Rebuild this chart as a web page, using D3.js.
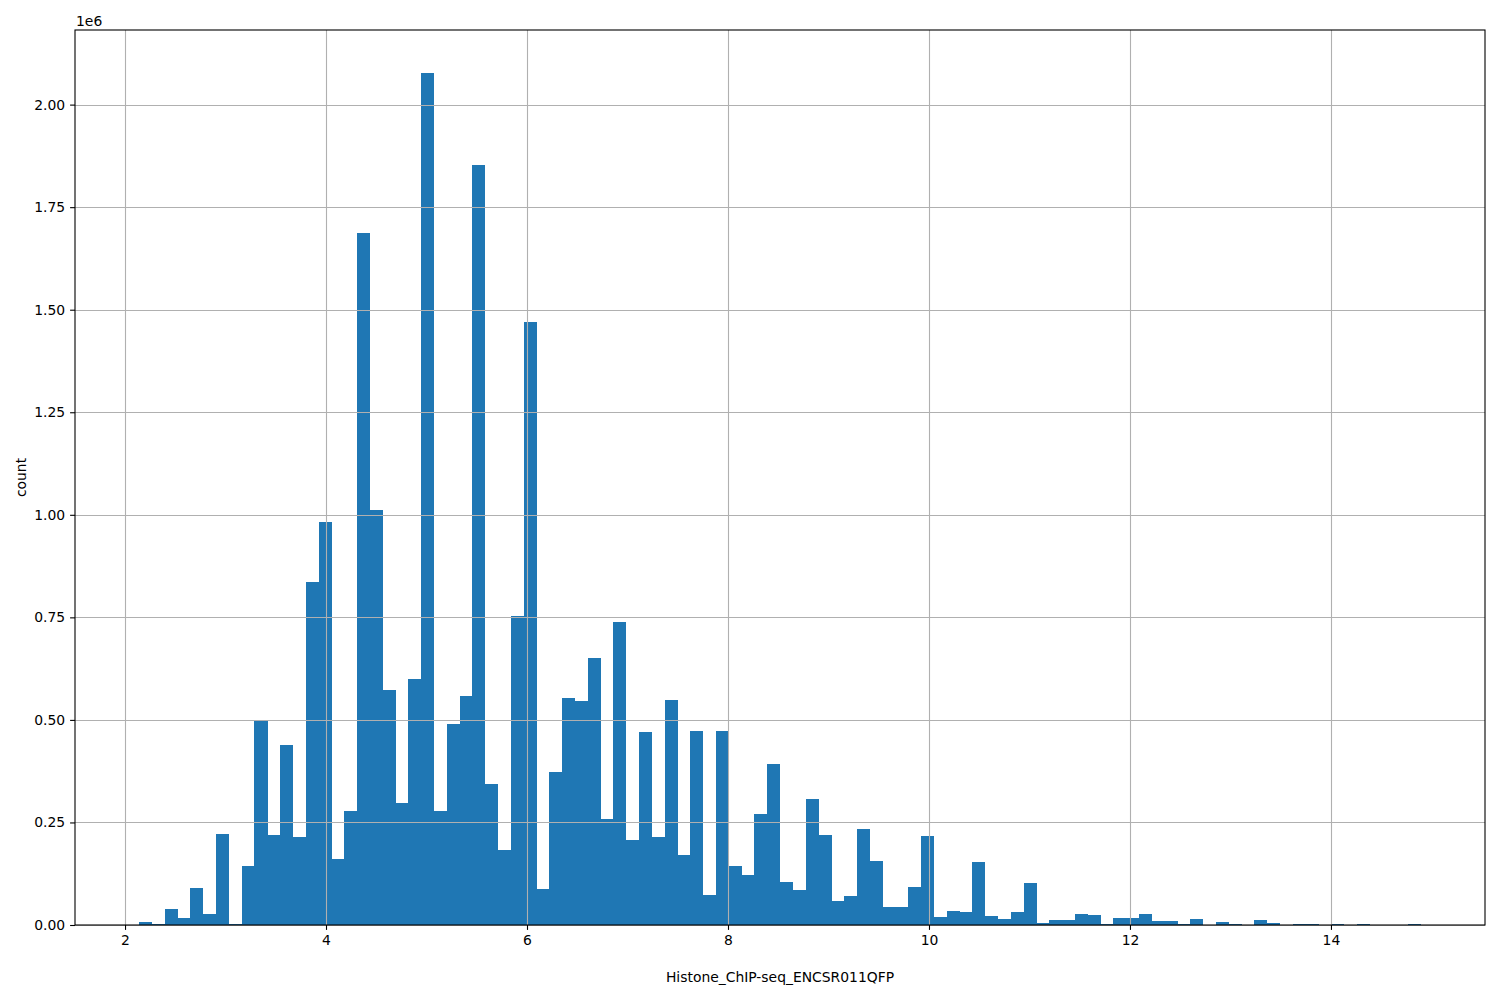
<!DOCTYPE html>
<html>
<head>
<meta charset="utf-8">
<script src="https://cdn.jsdelivr.net/npm/d3@7"></script>
<style>
  body { margin: 0; background: #fff; }
  svg { display: block; }
  text { font-family: "DejaVu Sans", sans-serif; }
</style>
</head>
<body>
<svg id="chart" width="1500" height="1000"></svg>
<script>
// Histogram settings
const histMin = 2.14;
const histMax = 14.895;
const counts = [
  8000, 2000, 39000, 17000, 90000, 27000, 222000, 2000, 144000, 498000,
  219000, 439000, 215000, 837000, 983000, 161000, 278000, 1688000, 1012000, 573000,
  298000, 600000, 2078000, 278000, 490000, 559000, 1854000, 344000, 183000, 754000,
  1471000, 88000, 373000, 554000, 547000, 651000, 258000, 739000, 207000, 471000,
  214000, 549000, 171000, 473000, 73000, 473000, 144000, 122000, 271000, 393000,
  105000, 85000, 307000, 219000, 58000, 71000, 234000, 156000, 44000, 44000,
  92000, 217000, 19500, 34000, 32000, 154000, 22000, 14600, 32000, 102000,
  5000, 12000, 12000, 27000, 24000, 2000, 17000, 17000, 27000, 10000,
  10000, 2000, 15000, 0, 7000, 2000, 0, 12000, 6000, 0,
  2000, 2000, 0, 2000, 0, 2000, 0, 0, 0, 2000
];
const xTicks = [2, 4, 6, 8, 10, 12, 14];
const yTicks = [0, 0.25e6, 0.5e6, 0.75e6, 1.0e6, 1.25e6, 1.5e6, 1.75e6, 2.0e6];
const xLabel = "Histone_ChIP-seq_ENCSR011QFP";
const yLabel = "count";

const nBins = counts.length;
const binW = (histMax - histMin) / nBins;
const bins = counts.map((c, i) => ({ x0: histMin + i * binW, x1: histMin + (i + 1) * binW, c }));

const L = 75, R = 1485, T = 30, B = 925;
const pad = (histMax - histMin) * 0.05;
const yMax = d3.max(counts) * 1.05;

const x = d3.scaleLinear().domain([histMin - pad, histMax + pad]).range([L, R]);
const y = d3.scaleLinear().domain([0, yMax]).range([B, T]);

const svg = d3.select("#chart");

// bars
svg.append("g").selectAll("rect").data(bins).enter().append("rect")
  .attr("x", d => x(d.x0))
  .attr("width", d => x(d.x1) - x(d.x0) + 0.3)
  .attr("y", d => y(d.c))
  .attr("height", d => B - y(d.c))
  .attr("fill", "#1f77b4")
  .attr("shape-rendering", "crispEdges");

// grid (above bars, as in matplotlib)
const grid = svg.append("g").attr("stroke", "#b0b0b0").attr("stroke-width", 1.1);
xTicks.forEach(t => {
  grid.append("line").attr("x1", Math.round(x(t)) + 0.5).attr("x2", Math.round(x(t)) + 0.5)
    .attr("y1", T).attr("y2", B);
});
yTicks.forEach(t => {
  grid.append("line").attr("y1", Math.round(y(t)) + 0.5).attr("y2", Math.round(y(t)) + 0.5)
    .attr("x1", L).attr("x2", R);
});

// axes
const xAxis = d3.axisBottom(x).tickValues(xTicks).tickSize(4.9).tickPadding(4.9).tickFormat(d3.format("d"));
const gx = svg.append("g").attr("transform", `translate(0,${B})`).call(xAxis);
const yAxis = d3.axisLeft(y).tickValues(yTicks).tickSize(4.9).tickPadding(4.9).tickFormat(d => (d / 1e6).toFixed(2));
const gy = svg.append("g").attr("transform", `translate(${L},0)`).call(yAxis);
[gx, gy].forEach(g => {
  g.select(".domain").remove();
  g.selectAll(".tick line").attr("stroke", "#000").attr("stroke-width", 1.1);
  g.selectAll(".tick text").attr("font-size", "13.9px").attr("fill", "#000")
    .style("font-family", "'DejaVu Sans', sans-serif");
});

// spines
svg.append("rect").attr("x", L).attr("y", T).attr("width", R - L).attr("height", B - T)
  .attr("fill", "none").attr("stroke", "#000").attr("stroke-width", 1.1);

// offset text
svg.append("text").attr("x", L + 1).attr("y", 26).attr("font-size", "13.9px").text("1e6");

// labels
svg.append("text").attr("x", (L + R) / 2).attr("y", 982).attr("text-anchor", "middle")
  .attr("font-size", "13.9px").text(xLabel);
svg.append("text").attr("transform", `translate(26,${(T + B) / 2}) rotate(-90)`)
  .attr("text-anchor", "middle").attr("font-size", "13.9px").text(yLabel);
</script>
</body>
</html>
